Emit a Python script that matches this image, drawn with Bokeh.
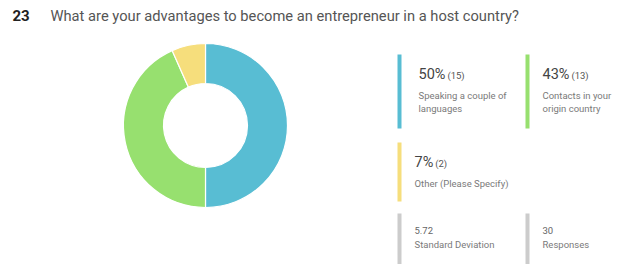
import math
from bokeh.plotting import figure
from bokeh.models import Range1d, ColumnDataSource
from bokeh.core.properties import value
from bokeh.embed import file_html
from bokeh.resources import INLINE

# ---- data ----
question_no = "23"
question = "What are your advantages to become an entrepreneur in a host country?"
labels = ["Speaking a couple of\nlanguages", "Contacts in your\norigin country", "Other (Please Specify)"]
counts = [15, 13, 2]
colors = ["#58bdd3", "#97e06f", "#f6de7c"]
std_dev = "5.72"
responses = 30

W, H = 625, 264
p = figure(width=W, height=H, output_backend="svg", toolbar_location=None,
           x_range=Range1d(0, W), y_range=Range1d(0, H), min_border=0)
p.axis.visible = False
p.grid.visible = False
p.outline_line_color = None

total = sum(counts)
fracs = [c / total for c in counts]
starts, ends = [], []
cum = 0.0
for f in fracs:
    starts.append(math.pi / 2 - cum * 2 * math.pi)
    cum += f
    ends.append(math.pi / 2 - cum * 2 * math.pi)

src = ColumnDataSource(dict(start=starts, end=ends, color=colors))
p.annular_wedge(x=205, y=139, inner_radius=42, outer_radius=82,
                start_angle="start", end_angle="end", direction="clock",
                fill_color="color", line_color="white", line_width=1.2, source=src)

FONT = value("Roboto")
# title
p.text(x=[12], y=[249], text=[question_no], text_font=FONT, text_font_size="15px",
       text_font_style="bold", text_color="#222222", text_baseline="middle")
p.text(x=[50], y=[249], text=[question], text_font=FONT, text_font_size="14.7px",
       text_color="#555555", text_baseline="middle")

PCT_SIZE = 14.5
def pct_width(s):
    return sum((0.733 if ch == "%" else 0.5615) * PCT_SIZE for ch in s)

# cards: (bar x, bar top, bar bottom, text x, pct y)
cards = [(397, 210, 136, 418, 190),
         (525, 210, 136, 542, 190),
         (397, 122, 63, 414, 102)]
for i, (bx, top, bot, tx, ty) in enumerate(cards):
    p.quad(left=[bx], right=[bx + 4], top=[top], bottom=[bot],
           fill_color=colors[i], line_color=None)
    pct = f"{round(fracs[i] * 100)}%"
    p.text(x=[tx], y=[ty], text=[pct], text_font=FONT, text_font_size=f"{PCT_SIZE}px",
           text_color="#444444", text_baseline="middle")
    p.text(x=[tx + pct_width(pct) + 2], y=[ty - 1], text=[f"({counts[i]})"], text_font=FONT,
           text_font_size="9.5px", text_color="#555555", text_baseline="middle")
    for j, line in enumerate(labels[i].split("\n")):
        p.text(x=[tx], y=[ty - 21 - 13 * j], text=[line], text_font=FONT,
               text_font_size="9.5px", text_color="#7a7a7a", text_baseline="middle")

# stats
for bx, tx, v, lab in [(397, 414, std_dev, "Standard Deviation"), (525, 542, str(responses), "Responses")]:
    p.quad(left=[bx], right=[bx + 4], top=[51], bottom=[0],
           fill_color="#cccccc", line_color=None)
    p.text(x=[tx], y=[34], text=[v], text_font=FONT, text_font_size="9.5px",
           text_color="#666666", text_baseline="middle")
    p.text(x=[tx], y=[20], text=[lab], text_font=FONT, text_font_size="9.5px",
           text_color="#7a7a7a", text_baseline="middle")

open("out.html", "w").write(file_html(p, INLINE))
